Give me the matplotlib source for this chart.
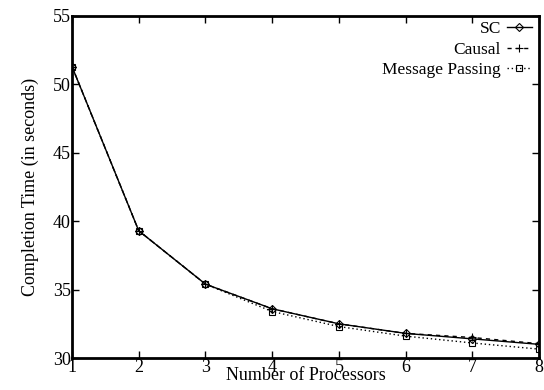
import matplotlib
matplotlib.use("Agg")
import matplotlib.pyplot as plt

plt.rcParams['font.family'] = ['Liberation Serif', 'DejaVu Serif']

procs = [1, 2, 3, 4, 5, 6, 7, 8]
sc = [51.3, 39.3, 35.4, 33.6, 32.5, 31.8, 31.4, 31.0]
causal = [51.3, 39.3, 35.4, 33.6, 32.5, 31.8, 31.5, 31.05]
msg = [51.3, 39.3, 35.4, 33.4, 32.3, 31.6, 31.1, 30.65]

fig = plt.figure(figsize=(5.44, 3.90), dpi=100)
ax = fig.add_axes([0.1324, 0.082, 0.8585, 0.877])

ax.plot(procs, sc, color='black', lw=1.0, ls='-', marker='D', ms=4,
        mfc='none', mew=0.8, label='SC')
ax.plot(procs, causal, color='black', lw=1.0, ls=(0, (3, 3)), marker='+', ms=6,
        mew=0.8, label='Causal')
ax.plot(procs, msg, color='black', lw=1.0, ls=(0, (1, 2)), marker='s', ms=5,
        mfc='none', mew=0.8, label='Message Passing')

ax.set_xlim(1, 8)
ax.set_ylim(30, 55)
ax.set_xticks(procs)
ax.set_yticks([30, 35, 40, 45, 50, 55])
ax.tick_params(direction='in', length=5, width=1, top=True, right=True,
               labelsize=13, pad=1)
for s in ax.spines.values():
    s.set_linewidth(2)

ax.set_xlabel('Number of Processors', fontsize=13, labelpad=-7)
ax.set_ylabel('Completion Time (in seconds)', fontsize=13, labelpad=10)

leg = ax.legend(loc='upper right', bbox_to_anchor=(0.985, 0.985),
                frameon=False, markerfirst=False,
                fontsize=12.5, handlelength=1.45, handletextpad=0.35,
                labelspacing=0.25, borderaxespad=0.0, borderpad=0.0)
for t in leg.get_texts():
    t.set_ha('right')

fig.savefig('out.png', dpi=100)
